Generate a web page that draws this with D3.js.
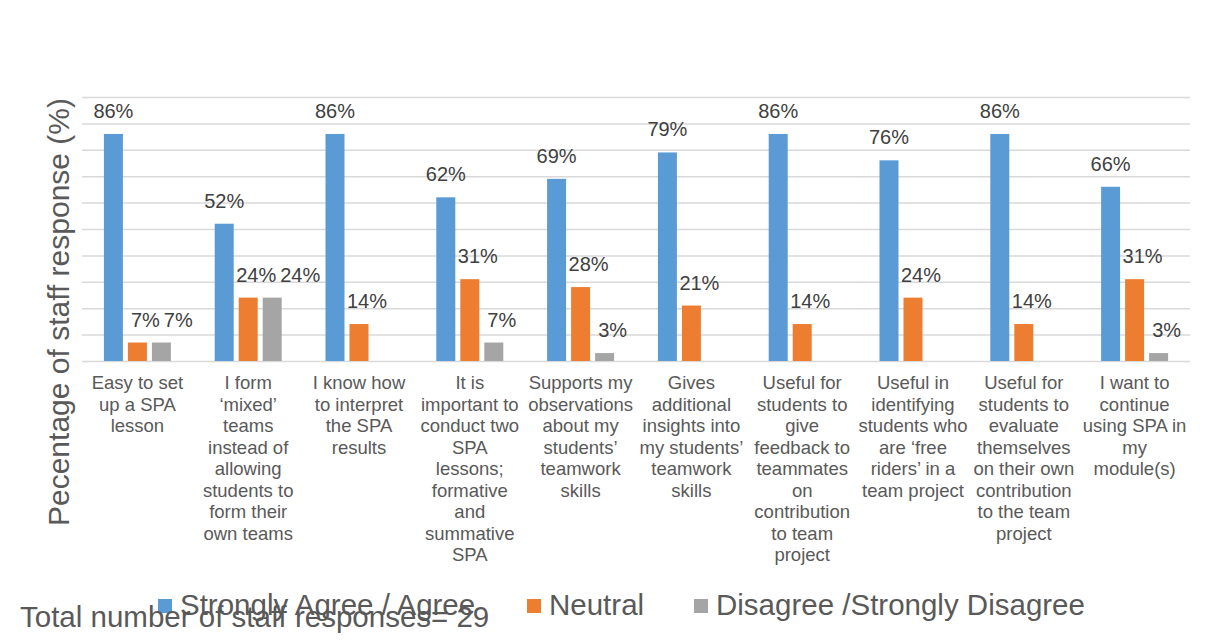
<!DOCTYPE html>
<html>
<head>
<meta charset="utf-8">
<script src="https://cdn.jsdelivr.net/npm/d3@7"></script>
<style>
  body { margin: 0; background: #fff; }
  svg { font-family: "Liberation Sans", Arial, sans-serif; }
</style>
</head>
<body>
<div id="chart"></div>
<script>
// category labels, one entry per line as in the original
const categories = [
  ["Easy to set", "up a SPA", "lesson"],
  ["I form", "\u2018mixed\u2019", "teams", "instead of", "allowing", "students to", "form their", "own teams"],
  ["I know how", "to interpret", "the SPA", "results"],
  ["It is", "important to", "conduct two", "SPA", "lessons;", "formative", "and", "summative", "SPA"],
  ["Supports my", "observations", "about my", "students\u2019", "teamwork", "skills"],
  ["Gives", "additional", "insights into", "my students\u2019", "teamwork", "skills"],
  ["Useful for", "students to", "give", "feedback to", "teammates", "on", "contribution", "to team", "project"],
  ["Useful in", "identifying", "students who", "are \u2018free", "riders\u2019 in a", "team project"],
  ["Useful for", "students to", "evaluate", "themselves", "on their own", "contribution", "to the team", "project"],
  ["I want to", "continue", "using SPA in", "my", "module(s)"]
];

const seriesNames = ["Strongly Agree / Agree", "Neutral", "Disagree /Strongly Disagree"];
const agree = [86, 52, 86, 62, 69, 79, 86, 76, 86, 66];
const neutral = [7, 24, 14, 31, 28, 21, 14, 24, 14, 31];
const disagree = [7, 24, 0, 7, 3, 0, 0, 0, 0, 3];
const yTicks = [0, 10, 20, 30, 40, 50, 60, 70, 80, 90, 100];

const colors = ["#5b9bd5", "#ed7d31", "#a5a5a5"];
const allSeries = [agree, neutral, disagree];

let width = 1215,
  height = 640;
let plot = { left: 82, right: 1190, top: 97, bottom: 361 };

let svg = d3
  .select("#chart")
  .append("svg")
  .attr("width", width)
  .attr("height", height);

let x = d3
  .scaleBand()
  .domain(d3.range(categories.length))
  .range([plot.left, plot.right]);

let xSub = d3
  .scaleBand()
  .domain(d3.range(seriesNames.length))
  .range([-33.5, 33.5])
  .paddingInner(5 / 24);

let y = d3.scaleLinear().domain([0, 100]).range([plot.bottom, plot.top]);

// gridlines
svg
  .append("g")
  .attr("transform", `translate(${plot.left},0)`)
  .call(
    d3.axisLeft(y).tickValues(yTicks).tickSize(-(plot.right - plot.left)).tickFormat("")
  )
  .call((g) => g.select(".domain").remove())
  .call((g) =>
    g.selectAll(".tick line").attr("stroke", "#d9d9d9").attr("stroke-width", 1.5)
  );

// flatten values for drawing
let bars = [];
categories.forEach((c, i) => {
  allSeries.forEach((s, j) => {
    bars.push({ cat: i, ser: j, value: s[i] });
  });
});

let barCenter = (d) => x(d.cat) + x.bandwidth() / 2 + xSub(d.ser) + xSub.bandwidth() / 2;

svg
  .selectAll("rect.bar")
  .data(bars.filter((d) => d.value > 0))
  .join("rect")
  .attr("class", "bar")
  .attr("x", (d) => barCenter(d) - xSub.bandwidth() / 2)
  .attr("y", (d) => y(d.value))
  .attr("width", xSub.bandwidth())
  .attr("height", (d) => y(0) - y(d.value))
  .attr("fill", (d) => colors[d.ser]);

// value labels: the short bars' labels sit a bit to the right,
// and get pushed further right when they would hit their neighbour
let labels = svg
  .selectAll("text.val")
  .data(bars.filter((d) => d.value > 0))
  .join("text")
  .attr("class", "val")
  .attr("text-anchor", "middle")
  .attr("fill", "#404040")
  .style("font-size", "20px")
  .attr("y", (d) => y(d.value) - 16)
  .text((d) => d.value + "%");

labels.each(function (d) {
  d.w = this.getComputedTextLength();
  d.cx = barCenter(d) + (d.ser == 0 ? 0 : 8);
});
let byCat = d3.group(labels.data(), (d) => d.cat);
byCat.forEach((list) => {
  list.sort((a, b) => a.ser - b.ser);
  for (let k = 1; k < list.length; k++) {
    let prev = list[k - 1],
      cur = list[k];
    if (prev.ser == 0) continue; // blue label sits much higher
    let minC = prev.cx + prev.w / 2 + 4 + cur.w / 2;
    if (cur.cx < minC && Math.abs(y(prev.value) - y(cur.value)) < 24) cur.cx = minC;
  }
});
labels.attr("x", (d) => d.cx);

// category labels
let catG = svg
  .selectAll("text.cat")
  .data(categories)
  .join("text")
  .attr("class", "cat")
  .attr("text-anchor", "middle")
  .attr("fill", "#595959")
  .style("font-size", "18.5px");

catG
  .selectAll("tspan")
  .data((d, i) => d.map((line, k) => ({ line: line, k: k, i: i })))
  .join("tspan")
  .attr("x", (d) => x(d.i) + x.bandwidth() / 2)
  .attr("y", (d) => 389 + d.k * 21.5)
  .text((d) => d.line);

// y axis title
svg
  .append("text")
  .attr("transform", `translate(69,312) rotate(-90)`)
  .attr("text-anchor", "middle")
  .attr("fill", "#595959")
  .style("font-size", "30px")
  .text("Pecentage of staff response (%)");

// legend
let legendX = [158, 527, 694];
let legend = svg
  .selectAll("g.legend")
  .data(seriesNames)
  .join("g")
  .attr("class", "legend")
  .attr("transform", (d, i) => `translate(${legendX[i]},0)`);

legend
  .append("rect")
  .attr("x", 0)
  .attr("y", 599)
  .attr("width", 14)
  .attr("height", 14)
  .attr("fill", (d, i) => colors[i]);

legend
  .append("text")
  .attr("x", 22)
  .attr("y", 615)
  .attr("fill", "#595959")
  .style("font-size", "29.5px")
  .text((d) => d);

// footnote
svg
  .append("text")
  .attr("x", 20)
  .attr("y", 627)
  .attr("fill", "#595959")
  .style("font-size", "29.5px")
  .text("Total number of staff responses= 29");
</script>
</body>
</html>
